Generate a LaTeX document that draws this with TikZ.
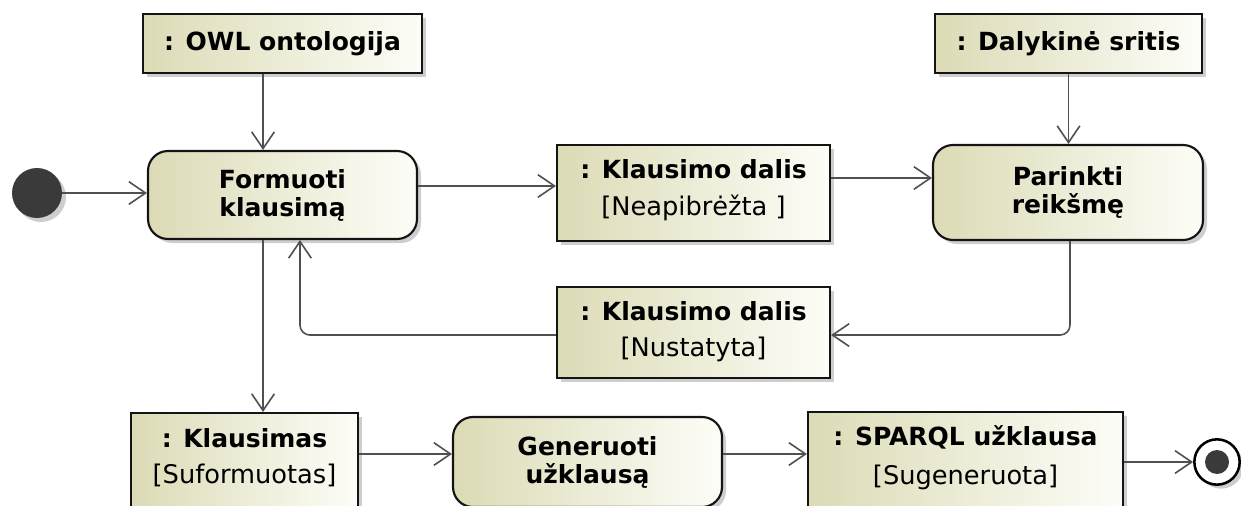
\documentclass[tikz,border=0pt]{standalone}
\usepackage{fontspec}
\setmainfont{DejaVu Sans}
\usetikzlibrary{arrows.meta,shadows}

% one drawing unit = 0.75pt

\definecolor{boxdark}{RGB}{220,219,182}
\definecolor{boxlight}{RGB}{253,253,248}
\definecolor{edgegray}{RGB}{80,80,80}
\definecolor{dotgray}{RGB}{58,58,58}

\tikzset{
  softshadow/.style={drop shadow={shadow xshift=3pt, shadow yshift=-3pt, fill=black!38}},
  basebox/.style={draw=black!92, line width=1.6pt, left color=boxdark, right color=boxlight,
    softshadow, inner sep=0pt},
  action/.style={basebox, rounded corners=15pt, align=center,
    font=\fontsize{18.75pt}{21pt}\selectfont\bfseries},
  objbox/.style={basebox},
  objtitle/.style={inner sep=0pt, font=\fontsize{18.75pt}{21pt}\selectfont\bfseries},
  objstate/.style={inner sep=0pt, font=\fontsize{19.25pt}{21pt}\selectfont},
  flow/.style={draw=edgegray, line width=1.2pt, rounded corners=7.5pt,
    -{Straight Barb[length=12.5pt, width=17pt]}},
}

\begin{document}
\begin{tikzpicture}[x=0.75pt, y=-0.75pt]
  \useasboundingbox (0,0) rectangle (1241,506);
  \clip (0,0) rectangle (1241,506);

  % start and end of the activity
  \node[circle, fill=dotgray, minimum size=37.5pt, inner sep=0pt, softshadow] (init) at (37,193) {};
  \node[circle, draw=black, line width=1.9pt, fill=white, minimum size=34pt, inner sep=0pt, softshadow] (fin) at (1217,462) {};
  \node[circle, fill=dotgray, minimum size=18pt, inner sep=0pt] (finDot) at (fin.center) {};

  % object nodes on top
  \node[objbox, minimum width=209.25pt, minimum height=44.25pt] (owl) at (282.5,43.5) {};
  \node[objtitle] (owlT) at (owl.center) {: OWL ontologija};
  \node[objbox, minimum width=200.25pt, minimum height=44.25pt] (dal) at (1068.5,43.5) {};
  \node[objtitle] (dalT) at (dal.center) {: Dalykinė sritis};

  % actions
  \node[action, minimum width=201.75pt, minimum height=66pt] (form) at (282.5,195) {Formuoti\\klausimą};
  \node[action, minimum width=202.5pt, minimum height=71.25pt] (par) at (1068,192.5) {Parinkti\\reikšmę};
  \node[action, minimum width=201.75pt, minimum height=67.5pt] (gen) at (587.5,462) {Generuoti\\užklausą};

  % question parts
  \node[objbox, minimum width=204.75pt, minimum height=72pt] (kdn) at (693.5,193) {};
  \node[objtitle] (kdnT) at ([yshift=-18.75pt]kdn.north) {: Klausimo dalis};
  \node[objstate] (kdnS) at ([yshift=-48pt]kdn.north) {[Neapibrėžta ]};

  \node[objbox, minimum width=204.75pt, minimum height=68.25pt] (kds) at (693.5,332.5) {};
  \node[objtitle] (kdsT) at ([yshift=-18.75pt]kds.north) {: Klausimo dalis};
  \node[objstate] (kdsS) at ([yshift=-47.25pt]kds.north) {[Nustatyta]};

  % results
  \node[objbox, minimum width=170.25pt, minimum height=90pt] (kl) at (244.5,473) {};
  \node[objtitle] (klT) at ([yshift=-19.5pt]kl.north) {: Klausimas};
  \node[objstate] (klS) at ([yshift=-48pt]kl.north) {[Suformuotas]};

  \node[objbox, minimum width=236.25pt, minimum height=90pt] (sp) at (965.5,472) {};
  \node[objtitle] (spT) at ([yshift=-19.5pt]sp.north) {: SPARQL užklausa};
  \node[objstate] (spS) at ([yshift=-49.5pt]sp.north) {[Sugeneruota]};

  % flows
  \draw[flow] (init.east) -- (form.west |- init.east);
  \coordinate (owlOut) at ([xshift=-14.6pt]owl.south);
  \draw[flow] (owlOut) -- (owlOut |- form.north);
  \coordinate (formOut) at ([yshift=6.75pt]form.east);
  \draw[flow] (formOut) -- (formOut -| kdn.west);
  \coordinate (kdnOut) at ([yshift=11.25pt]kdn.east);
  \draw[flow] (kdnOut) -- (kdnOut -| par.west);
  \draw[flow] (dal.south) -- (dal.south |- par.north);
  \coordinate (parOut) at ([xshift=1.5pt]par.south);
  \coordinate (kdsIn) at ([yshift=-1.9pt]kds.east);
  \draw[flow] (parOut) |- (kdsIn);
  \coordinate (kdsOut) at ([yshift=-1.9pt]kds.west);
  \coordinate (formIn) at ([xshift=13.1pt]form.south);
  \draw[flow] (kdsOut) -| (formIn);
  \coordinate (formDown) at ([xshift=-14.6pt]form.south);
  \draw[flow] (formDown) -- (formDown |- kl.north);
  \coordinate (genIn) at ([yshift=6pt]gen.west);
  \draw[flow] (genIn -| kl.east) -- (genIn);
  \coordinate (genOut) at ([yshift=6pt]gen.east);
  \draw[flow] (genOut) -- (genOut -| sp.west);
  \draw[flow] (fin.west -| sp.east) -- (fin.west);
\end{tikzpicture}
\end{document}
